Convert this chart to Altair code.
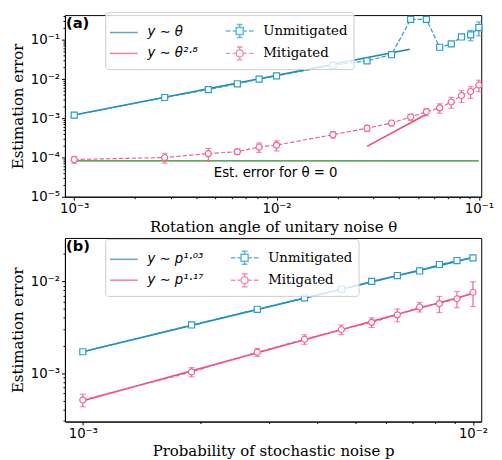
import altair as alt
import pandas as pd

# ---------------- Panel (a): unitary noise ----------------
theta = [0.001, 0.0028, 0.0046, 0.0064, 0.0082, 0.01, 0.019, 0.028, 0.037,
         0.046, 0.055, 0.064, 0.073, 0.082, 0.091, 0.1]
unmit_a = [1.21e-3, 3.4e-3, 5.4e-3, 7.6e-3, 1.0e-2, 1.21e-2, 2.24e-2, 2.93e-2,
           4.2e-2, 0.335, 0.335, 0.065, 0.079, 0.119, 0.135, 0.207]
unmit_a_err = [2.5e-5, 6e-5, 1e-4, 1.4e-4, 2e-4, 2.4e-4, 4.5e-4, 6e-4, 1e-3,
               0.01, 0.01, 2e-3, 3e-3, 0.008, 0.04, 0.08]
mit_a = [8.9e-5, 1.0e-4, 1.26e-4, 1.41e-4, 1.85e-4, 2.07e-4, 3.83e-4, 5.6e-4,
         7.6e-4, 1.08e-3, 1.47e-3, 1.85e-3, 2.61e-3, 3.83e-3, 4.83e-3, 7.08e-3]
mit_a_err = [1.8e-5, 2.8e-5, 4.5e-5, 2.2e-5, 5e-5, 6e-5, 7e-5, 1.0e-4, 1.2e-4,
             2.0e-4, 3.2e-4, 5.0e-4, 8e-4, 1.3e-3, 1.6e-3, 2.3e-3]
fit_a_lin_x = [0.001, 0.0455]
fit_a_lin_y = [1.21e-3, 5.8e-2]
fit_a_pow_x = [0.028, 0.055]
fit_a_pow_y = [1.92e-4, 1.27e-3]
zero_x = [0.001, 0.1]
zero_y = [8.26e-5, 8.26e-5]
zero_text = ["Est. error for θ = 0"]
zero_text_x = [0.0099]
zero_text_y = [4.1e-5]
names_a = ["y ∼ θ", "Unmitigated", "y ∼ θ²·⁸", "Mitigated"]

# ---------------- Panel (b): stochastic noise ----------------
prob = [0.001, 0.0019, 0.0028, 0.0037, 0.0046, 0.0055, 0.0064, 0.0073,
        0.0082, 0.0091, 0.01]
unmit_b = [1.71e-3, 3.35e-3, 4.97e-3, 6.63e-3, 8.21e-3, 1.0e-2, 1.16e-2,
           1.30e-2, 1.53e-2, 1.69e-2, 1.81e-2]
unmit_b_err = [2.5e-5, 5e-5, 7e-5, 1e-4, 1.2e-4, 1.5e-4, 1.7e-4, 2e-4,
               2.3e-4, 2.5e-4, 2.7e-4]
mit_b = [5.09e-4, 1.03e-3, 1.69e-3, 2.34e-3, 2.99e-3, 3.58e-3, 4.32e-3,
         5.27e-3, 5.72e-3, 6.47e-3, 7.62e-3]
mit_b_err = [8e-5, 1.2e-4, 1.7e-4, 2.8e-4, 3.6e-4, 4.3e-4, 6.9e-4, 6.3e-4,
             1.14e-3, 1.3e-3, 2.3e-3]
fit_b_unmit_x = [0.001, 0.01]
fit_b_unmit_y = [1.71e-3, 1.83e-2]
fit_b_mit_x = [0.001, 0.01]
fit_b_mit_y = [5.0e-4, 7.4e-3]
names_b = ["y ∼ p¹·⁰³", "Unmitigated", "y ∼ p¹·¹⁷", "Mitigated"]

# ---------------- styling ----------------
BLUE_FIT = "#1585b5"
BLUE_DATA = "#2b9bcb"
PINK_FIT = "#ef4a77"
PINK_DATA = "#f0628c"
GREEN = "#2b8a2b"

K = 1.18  # legend glyph half-width in symbol units
LINE_PATH = f"M-{K},0H{K}"
DASHES = (f"M-{K},0H-0.78M-0.6,0H-0.3M0.3,0H0.6M0.78,0H{K}")
EBAR = "M0,-0.3V-0.55M-0.24,-0.55H0.24M0,0.3V0.55M-0.24,0.55H0.24"
SQUARE_PATH = DASHES + "M-0.3,-0.3H0.3V0.3H-0.3Z" + EBAR
CIRCLE_PATH = DASHES + "M0.3,0A0.3,0.3,0,1,1,-0.3,0A0.3,0.3,0,1,1,0.3,0Z" + EBAR

E = "round(log(datum.value)/LN10)"
ISDEC = f"abs(log(datum.value)/LN10 - {E}) < 0.01"
SUP = {-1: "⁻¹", -2: "⁻²", -3: "⁻³", -4: "⁻⁴", -5: "⁻⁵"}
inner = "''"
for k, s in SUP.items():
    inner = f"({E} == {k} ? '10{s}' : {inner})"
LABEL_EXPR = f"{ISDEC} ? {inner} : ''"


def log_ticks(lo_exp, hi_exp, lo_val, hi_val):
    out = []
    for e in range(lo_exp, hi_exp + 1):
        for m in range(1, 10):
            v = float(f"{m}e{e}")
            if lo_val <= v <= hi_val:
                out.append(v)
    return out


def make_axis(title, values, title_pad):
    return alt.Axis(
        title=title, values=values, labelExpr=LABEL_EXPR, grid=False,
        tickSize={"condition": {"test": ISDEC, "value": 3.5}, "value": 2},
        labelFlush=False, labelOverlap=False, labelBound=False,
        labelFont="DejaVu Sans", labelFontSize=13.5, labelColor="black",
        labelPadding=2,
        titleFont="DejaVu Serif", titleFontSize=15.2, titleFontWeight="normal",
        titleColor="black", titlePadding=title_pad,
        domainColor="black", tickColor="black", tickWidth=1,
    )


def build_panel(xv, unmit, unmit_err, mit, mit_err, fits, names, xdom, ydom,
                xticks, yticks, xtitle, tag, legend_y, height, extra=None):
    xsc = alt.Scale(type="log", domain=xdom, nice=False)
    ysc = alt.Scale(type="log", domain=ydom, nice=False)
    xax = make_axis(xtitle, xticks, 4)
    yax = make_axis("Estimation error", yticks, 5)

    def X(f):
        return alt.X(f"{f}:Q", scale=xsc, axis=xax)

    def Y(f):
        return alt.Y(f"{f}:Q", scale=ysc, axis=yax)

    layers = []
    for (fx, fy, col) in fits:
        d = pd.DataFrame({"x": fx, "y": fy})
        layers.append(alt.Chart(d).mark_line(color=col, strokeWidth=1.6)
                      .encode(x=X("x"), y=Y("y")))
    if extra:
        layers += extra(X, Y)

    for vals, errs, col, shape, sname in [
        (unmit, unmit_err, BLUE_DATA, "square", "Unmitigated"),
        (mit, mit_err, PINK_DATA, "circle", "Mitigated"),
    ]:
        d = pd.DataFrame({
            "x": xv, "y": vals,
            "lo": [v - e for v, e in zip(vals, errs)],
            "hi": [v + e for v, e in zip(vals, errs)],
            "series": sname,
        })
        layers.append(alt.Chart(d).mark_line(color=col, strokeWidth=1.2,
                                             strokeDash=[4.5, 2])
                      .encode(x=X("x"), y=Y("y")))
        layers.append(alt.Chart(d).mark_errorbar(ticks={"size": 6},
                                                 thickness=1.2, color=col)
                      .encode(x=X("x"), y=Y("lo"), y2="hi:Q"))
        layers.append(alt.Chart(d).mark_point(shape=shape, size=38,
                                              filled=True, fill="white",
                                              stroke=col, strokeWidth=1.2,
                                              opacity=1)
                      .encode(x=X("x"), y=Y("y")))

    # panel tag "(a)" / "(b)"
    layers.append(
        alt.Chart(pd.DataFrame({"t": [tag]}))
        .mark_text(align="left", baseline="top", font="DejaVu Sans",
                   fontSize=15, fontWeight="bold", color="black")
        .encode(text="t:N", x=alt.value(1), y=alt.value(1))
    )

    # legend-only layer (no marks drawn, legend from explicit scale domain)
    legd = pd.DataFrame({"x": xv[:4], "y": unmit[:4], "series": names})
    font_expr = ("indexof(['Unmitigated','Mitigated'], datum.label) >= 0"
                 " ? 'DejaVu Serif' : 'DejaVu Sans'")
    style_expr = ("indexof(['Unmitigated','Mitigated'], datum.label) >= 0"
                  " ? 'normal' : 'italic'")
    leg = alt.Legend(
        title=None, orient="none", legendX=41, legendY=legend_y, columns=2,
        direction="horizontal",
        symbolSize=576, symbolStrokeWidth=1.5, symbolFillColor="transparent",
        labelFont={"expr": font_expr}, labelFontStyle={"expr": style_expr},
        labelFontSize=13.5, labelColor="black", labelOffset=11,
        columnPadding=24, rowPadding=0, padding=6,
        strokeColor="#cccccc", fillColor="rgba(255,255,255,0.8)",
        cornerRadius=3,
    )
    layers.append(
        alt.Chart(legd).transform_filter("false")
        .mark_point(filled=False, size=576, strokeWidth=1.5)
        .encode(
            x=X("x"), y=Y("y"),
            color=alt.Color("series:N", scale=alt.Scale(
                domain=names, range=[BLUE_FIT, BLUE_DATA, PINK_FIT, PINK_DATA]),
                legend=leg),
            shape=alt.Shape("series:N", scale=alt.Scale(
                domain=names,
                range=[LINE_PATH, SQUARE_PATH, LINE_PATH, CIRCLE_PATH]),
                legend=leg),
        )
    )

    return alt.layer(*layers).properties(width=424, height=height)


def extra_a(X, Y):
    dz = pd.DataFrame({"x": zero_x, "y": zero_y})
    dt = pd.DataFrame({"x": zero_text_x, "y": zero_text_y, "t": zero_text})
    return [
        alt.Chart(dz).mark_line(color=GREEN, strokeWidth=1.3)
        .encode(x=X("x"), y=Y("y")),
        alt.Chart(dt).mark_text(font="DejaVu Sans", fontSize=13.5,
                                color="black", baseline="middle")
        .encode(x=X("x"), y=Y("y"), text="t:N"),
    ]


panel_a = build_panel(
    theta, unmit_a, unmit_a_err, mit_a, mit_a_err,
    [(fit_a_lin_x, fit_a_lin_y, BLUE_FIT), (fit_a_pow_x, fit_a_pow_y, PINK_FIT)],
    names_a, [0.0009, 0.1027], [1e-5, 0.43],
    log_ticks(-3, -1, 0.0009, 0.1027), log_ticks(-5, -1, 1e-5, 0.43),
    "Rotation angle of unitary noise θ", "(a)", -3, 185, extra=extra_a,
)

panel_b = build_panel(
    prob, unmit_b, unmit_b_err, mit_b, mit_b_err,
    [(fit_b_unmit_x, fit_b_unmit_y, BLUE_FIT), (fit_b_mit_x, fit_b_mit_y, PINK_FIT)],
    names_b, [0.0009, 0.0105], [2.96e-4, 0.0298],
    log_ticks(-3, -2, 0.0009, 0.0105), log_ticks(-4, -2, 2.96e-4, 0.0298),
    "Probability of stochastic noise p", "(b)", 1, 187,
)

chart = (
    alt.vconcat(panel_a, panel_b, spacing=2)
    .resolve_scale(color="independent", shape="independent",
                   x="independent", y="independent")
    .resolve_legend(color="independent", shape="independent")
    .properties(padding={"left": 2, "top": -4, "right": 0, "bottom": 0},
                background="white")
    .configure_view(stroke="black", strokeWidth=1, fill="white")
)

chart.save("out.html", embed_options={"renderer": "svg", "actions": False})
